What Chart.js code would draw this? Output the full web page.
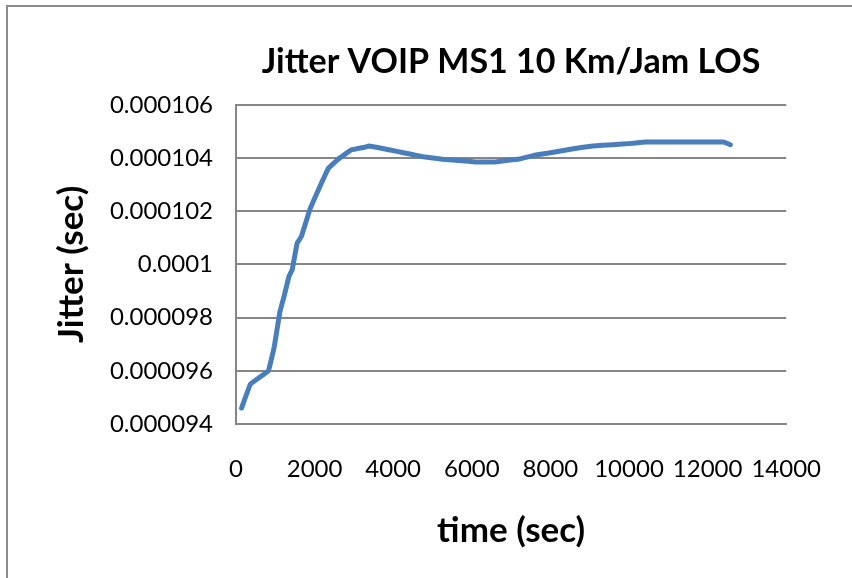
<!DOCTYPE html>
<html>
<head>
<meta charset="utf-8">
<title>Jitter VOIP MS1 10 Km/Jam LOS</title>
<script src="https://cdn.jsdelivr.net/npm/chart.js@4.4.1/dist/chart.umd.min.js"></script>
<style>
    body { margin: 0; background: #ffffff; overflow: hidden; }
    #wrap { position: relative; width: 852px; height: 578px; }
    #frame {
        position: absolute; left: 6px; top: 5px; width: 900px; height: 620px;
        border-left: 2px solid #8c8c8c; border-top: 2px solid #8c8c8c;
    }
    #chart { position: absolute; left: 0; top: 0; }
</style>
</head>
<body>
<div id="wrap">
    <div id="frame"></div>
    <canvas id="chart" width="852" height="578"></canvas>
</div>
<script>
// Data
const timeSec = [142, 367, 824, 973, 1115, 1223, 1348, 1430, 1556, 1664, 1888, 2096, 2346, 2595,
    2928, 3262, 3386, 3760, 4093, 4425, 4758, 5257, 5756, 6089, 6588, 6838, 7170, 7587, 8003,
    8585, 9084, 9583, 10082, 10415, 12411, 12578];
const jitterSec = [0.0000946, 0.0000955, 0.0000960, 0.0000969, 0.0000982, 0.0000988, 0.00009955,
    0.0000998, 0.0001008, 0.00010105, 0.0001021, 0.0001028, 0.0001036, 0.00010395, 0.0001043,
    0.0001044, 0.00010445, 0.00010435, 0.00010425, 0.00010415, 0.00010405, 0.00010395, 0.0001039,
    0.00010385, 0.00010385, 0.0001039, 0.00010395, 0.0001041, 0.0001042, 0.00010435, 0.00010445,
    0.0001045, 0.00010455, 0.0001046, 0.0001046, 0.0001045];

const xTicks = [0, 2000, 4000, 6000, 8000, 10000, 12000, 14000];
const yTicks = [0.000094, 0.000096, 0.000098, 0.0001, 0.000102, 0.000104, 0.000106];

const titleText = 'Jitter VOIP MS1 10 Km/Jam LOS';
const xTitle = 'time (sec)';
const yTitle = 'Jitter (sec)';

const points = timeSec.map(function(t, i) {
    return { x: t, y: jitterSec[i] };
});

const gridGray = '#868686';
const fontFamily = 'Lato, "Open Sans", sans-serif';

const ctx = document.getElementById('chart').getContext('2d');
new Chart(ctx, {
    type: 'scatter',
    data: {
        datasets: [{
            label: 'Jitter',
            data: points,
            showLine: true,
            borderColor: '#4a7ebb',
            backgroundColor: '#4a7ebb',
            borderWidth: 5,
            pointRadius: 0,
            tension: 0.05,
            borderCapStyle: 'round',
            borderJoinStyle: 'round'
        }]
    },
    options: {
        responsive: false,
        animation: false,
        layout: {
            padding: { left: 0, right: 55, top: 0, bottom: 0 }
        },
        plugins: {
            legend: { display: false },
            tooltip: { enabled: false },
            title: {
                display: true,
                fullSize: false,
                text: titleText,
                color: '#000000',
                font: { family: fontFamily, size: 34, weight: 'bold', lineHeight: 1.2 },
                padding: { top: 42, bottom: 22 }
            }
        },
        scales: {
            x: {
                type: 'linear',
                min: xTicks[0],
                max: xTicks[xTicks.length - 1],
                afterFit: function(scale) { scale.height = 154; },
                afterBuildTicks: function(scale) {
                    scale.ticks = xTicks.map(function(v) { return { value: v }; });
                },
                grid: { display: false, drawTicks: false },
                border: { display: true, color: gridGray, width: 2 },
                ticks: {
                    color: '#000000',
                    padding: 31,
                    maxRotation: 0,
                    font: { family: fontFamily, size: 24 },
                    callback: function(value) { return String(value); }
                },
                title: {
                    display: true,
                    text: xTitle,
                    color: '#000000',
                    font: { family: fontFamily, size: 35, weight: 'bold', lineHeight: 1.2 },
                    padding: { top: 0, bottom: 26 }
                }
            },
            y: {
                type: 'linear',
                min: yTicks[0],
                max: yTicks[yTicks.length - 1],
                afterFit: function(scale) { scale.width = 236; },
                afterBuildTicks: function(scale) {
                    scale.ticks = yTicks.map(function(v) { return { value: v }; });
                },
                grid: { display: true, color: gridGray, lineWidth: 2, drawTicks: false },
                border: { display: true, color: gridGray, width: 2 },
                ticks: {
                    color: '#000000',
                    padding: 23,
                    font: { family: fontFamily, size: 24 },
                    callback: function(value) {
                        return value === 0.0001 ? '0.0001' : value.toFixed(6);
                    }
                },
                title: {
                    display: true,
                    text: yTitle,
                    color: '#000000',
                    font: { family: fontFamily, size: 35, weight: 'bold', lineHeight: 1.2 },
                    padding: { top: 51, bottom: 0 }
                }
            }
        }
    }
});
</script>
</body>
</html>
